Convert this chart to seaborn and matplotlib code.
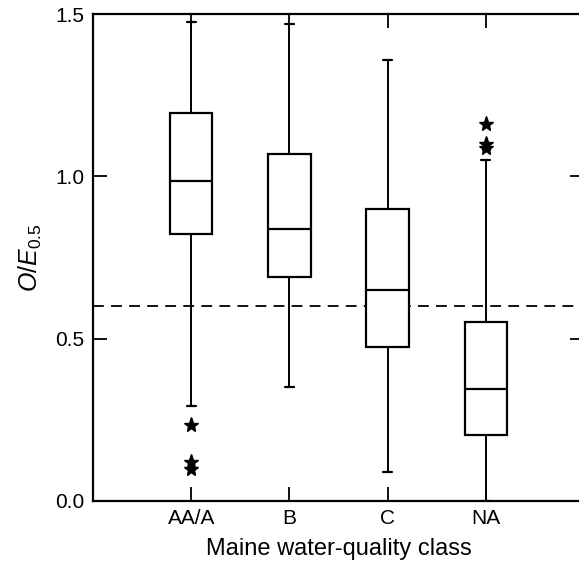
import numpy as np
import matplotlib
matplotlib.use("Agg")
import matplotlib.pyplot as plt
import seaborn as sns

# --- data (O/E0.5 box summaries) ---
classes = ["AA/A", "B", "C", "NA"]
whisker_low = [0.294, 0.35, 0.09, 0.0]
q1 = [0.821, 0.691, 0.475, 0.203]
medians = [0.985, 0.839, 0.65, 0.345]
q3 = [1.196, 1.069, 0.899, 0.552]
whisker_high = [1.474, 1.469, 1.358, 1.05]
outliers = [[0.235, 0.12, 0.10], [], [], [1.087, 1.10, 1.161]]
threshold = 0.6

sns.set_theme(style="ticks")
plt.rcParams["font.family"] = ["Liberation Sans", "DejaVu Sans"]
plt.rcParams["mathtext.fontset"] = "custom"
plt.rcParams["mathtext.rm"] = "Liberation Sans"
plt.rcParams["mathtext.it"] = "Liberation Sans:italic"
plt.rcParams["text.color"] = "black"
plt.rcParams["axes.labelcolor"] = "black"

fig = plt.figure(figsize=(5.79, 5.74), dpi=100)
# right spine sits just past the image edge, as in the reference
ax = fig.add_axes([93 / 579, 1 - 501 / 574, 491 / 579, 487 / 574])

stats = []
for i, name in enumerate(classes):
    stats.append(dict(label=name, med=medians[i], q1=q1[i], q3=q3[i],
                      whislo=whisker_low[i], whishi=whisker_high[i],
                      fliers=outliers[i]))

ax.bxp(stats, positions=range(len(classes)), widths=0.43, patch_artist=True,
       boxprops=dict(facecolor="white", edgecolor="black", linewidth=1.6),
       medianprops=dict(color="black", linewidth=1.6),
       whiskerprops=dict(color="black", linewidth=1.4),
       capprops=dict(color="black", linewidth=1.6),
       capwidths=0.09,
       flierprops=dict(marker="*", markerfacecolor="black", markeredgecolor="black",
                       markersize=11, linestyle="none"))

ax.axhline(threshold, color="black", linestyle=(0, (6, 4)), linewidth=1.3, zorder=0.5)

ax.set_ylim(0, 1.5)
ax.set_xlim(-1, 4.0)
ax.set_yticks([0, 0.5, 1.0, 1.5])
ax.set_yticklabels(["0.0", "0.5", "1.0", "1.5"])
ax.set_xticks(range(len(classes)))
ax.set_xticklabels(classes)
ax.tick_params(direction="in", length=10, width=1.3, labelsize=15, color="black",
               labelcolor="black", top=True, right=True, pad=6)
for s in ax.spines.values():
    s.set_linewidth(1.6)
    s.set_color("black")

ax.set_xlabel("Maine water-quality class", fontsize=17, labelpad=7)
ax.set_ylabel(r"$O/E_{0.5}$", fontsize=18, labelpad=8)

fig.savefig("out.png", dpi=100)
